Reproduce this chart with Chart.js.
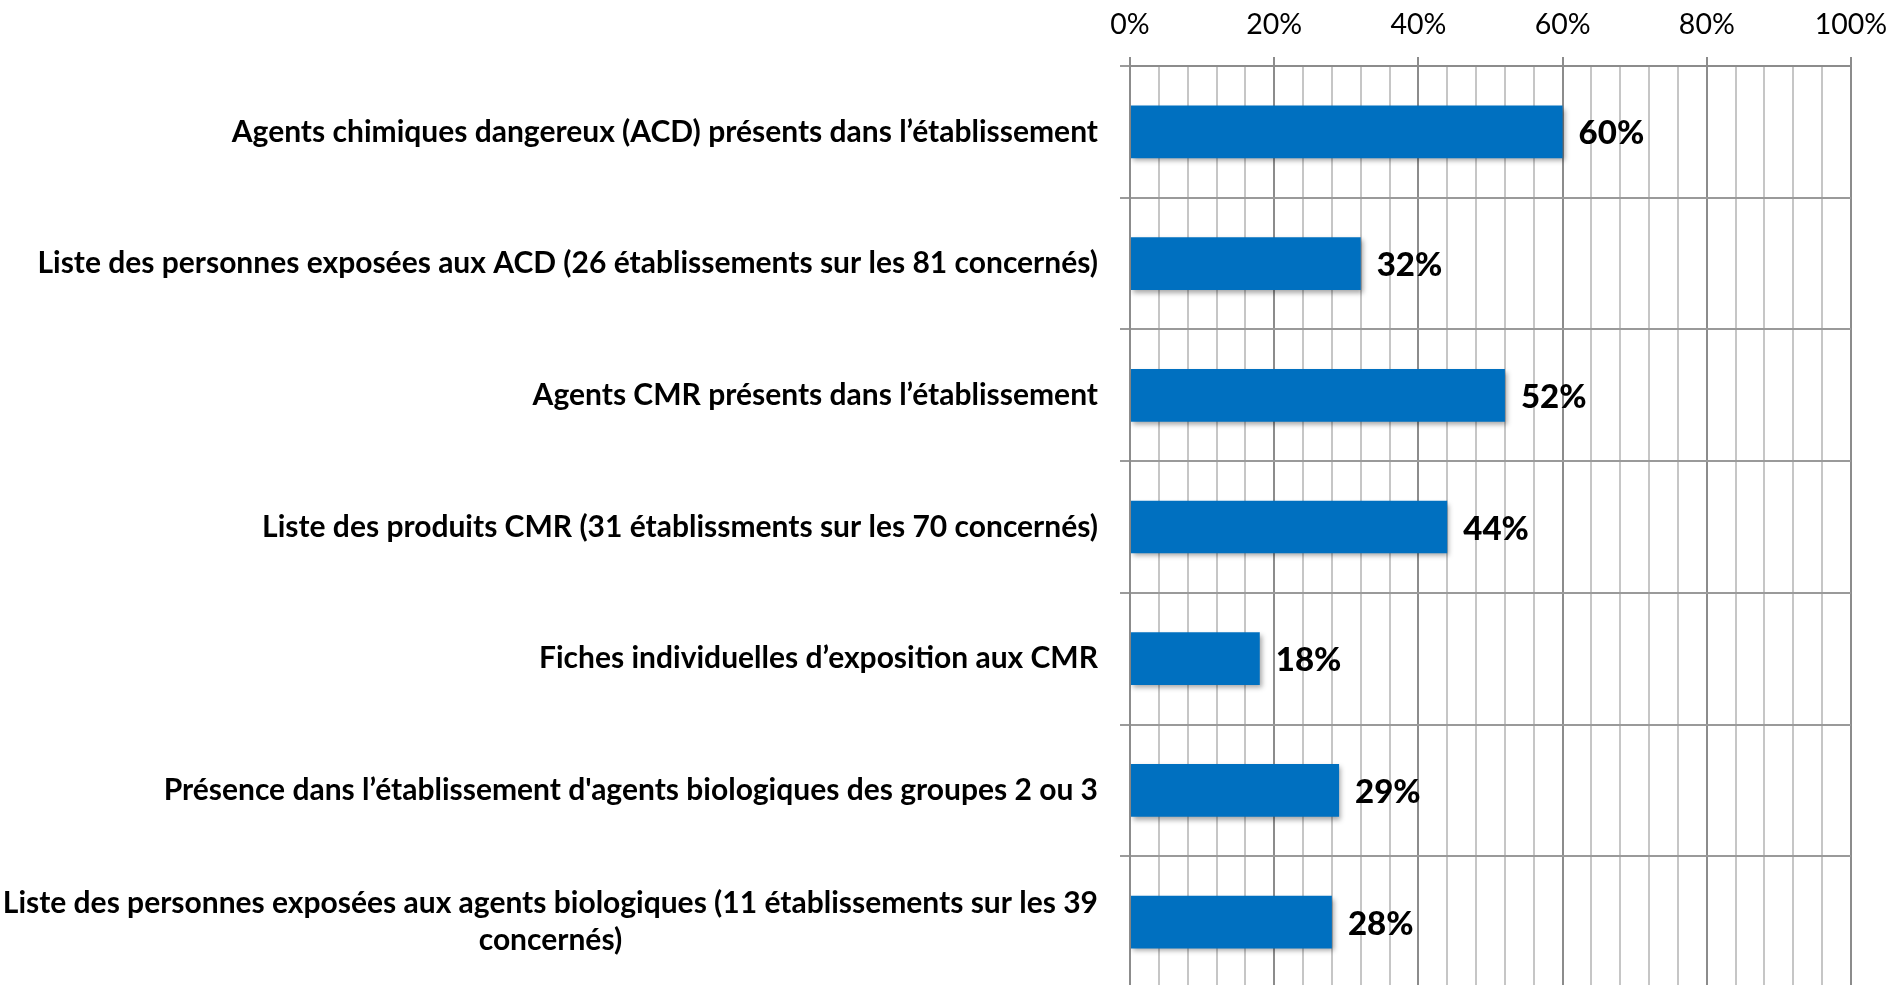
<!DOCTYPE html>
<html lang="fr">
<head>
<meta charset="utf-8">
<title>Risques chimiques et biologiques</title>
<script src="https://cdn.jsdelivr.net/npm/chart.js@4.4.1/dist/chart.umd.min.js"></script>
<style>
  html, body { margin: 0; padding: 0; background: #fff; overflow: hidden; }
  #wrap { width: 1890px; height: 988px; }
</style>
</head>
<body>
<div id="wrap"><canvas id="barChart" width="1890" height="988"></canvas></div>
<script>
const categories = [
  "Agents chimiques dangereux (ACD) présents dans l’établissement",
  "Liste des personnes exposées aux ACD (26 établissements sur les 81 concernés)",
  "Agents CMR présents dans l’établissement",
  "Liste des produits CMR (31 établissments sur les 70 concernés)",
  "Fiches individuelles d’exposition aux CMR",
  "Présence dans l’établissement d'agents biologiques des groupes 2 ou 3",
  ["Liste des personnes exposées aux agents biologiques (11 établissements sur les 39", "concernés)"],
];
const percentValues = [60, 32, 52, 44, 18, 29, 28];
const axisTicks = [0, 20, 40, 60, 80, 100];

window.onload = function () {
  const canvas = document.getElementById("barChart");
  const ctx = canvas.getContext("2d");

  // soft drop shadow under the bars
  const barShadow = {
    id: "barShadow",
    beforeDatasetsDraw(chart) {
      const c = chart.ctx;
      c.save();
      c.shadowColor = "rgba(0, 0, 0, 0.35)";
      c.shadowBlur = 5;
      c.shadowOffsetX = 2;
      c.shadowOffsetY = 3;
    },
    afterDatasetsDraw(chart) {
      chart.ctx.restore();
    },
  };

  // "60%" etc. next to the end of each bar
  const valueLabels = {
    id: "valueLabels",
    afterDatasetsDraw(chart) {
      const c = chart.ctx;
      const meta = chart.getDatasetMeta(0);
      c.save();
      c.font = "900 33px Lato";
      c.fillStyle = "#000";
      c.textAlign = "left";
      c.textBaseline = "middle";
      meta.data.forEach((bar, i) => {
        c.fillText(percentValues[i] + "%", bar.x + 16, bar.y + 2);
      });
      c.restore();
    },
  };

  // category names, right aligned; wrapped lines are centred on the first one
  const categoryLabels = {
    id: "categoryLabels",
    afterDraw(chart) {
      const c = chart.ctx;
      const yScale = chart.scales.y;
      const right = chart.chartArea.left - 32;
      const lineH = 37;
      c.save();
      c.font = "bold 30px Lato";
      c.fillStyle = "#000";
      c.textAlign = "center";
      c.textBaseline = "middle";
      categories.forEach((label, i) => {
        const lines = Array.isArray(label) ? label : [label];
        const yMid = yScale.getPixelForValue(i);
        const blockW = Math.max(...lines.map((l) => c.measureText(l).width));
        lines.forEach((line, j) => {
          const y = yMid + (j - (lines.length - 1) / 2) * lineH;
          c.fillText(line, right - blockW / 2, y);
        });
      });
      c.restore();
    },
  };

  new Chart(ctx, {
    type: "bar",
    data: {
      labels: categories,
      datasets: [
        {
          data: percentValues,
          backgroundColor: "#0070C0",
          borderWidth: 0,
          barPercentage: 0.4,
          categoryPercentage: 1,
        },
      ],
    },
    options: {
      indexAxis: "y",
      responsive: false,
      animation: false,
      layout: { padding: { top: 0, right: 39, bottom: 0, left: 0 } },
      plugins: {
        legend: { display: false },
        tooltip: { enabled: false },
      },
      scales: {
        x: {
          position: "top",
          min: 0,
          max: 100,
          afterFit: (scale) => {
            // fixed axis band; the page padding leaves room for "100%"
            scale.height = 66;
            scale.paddingLeft = 0;
            scale.paddingRight = 0;
          },
          border: { color: "#8c8c8c", width: 2 },
          grid: {
            lineWidth: 2,
            tickLength: 9,
            color: (c) => (axisTicks.includes(c.tick.value) ? "#8c8c8c" : "#c6c6c6"),
            tickColor: (c) => (axisTicks.includes(c.tick.value) ? "#8c8c8c" : "rgba(0,0,0,0)"),
          },
          ticks: {
            stepSize: 4,
            autoSkip: false,
            maxRotation: 0,
            padding: 15,
            color: "#000",
            font: { family: "Lato", size: 28.5 },
            callback: (value) => (axisTicks.includes(value) ? value + "%" : ""),
          },
        },
        y: {
          afterFit: (scale) => {
            scale.width = 1130;
          },
          border: { color: "#8c8c8c", width: 2 },
          grid: { color: "#9a9a9a", lineWidth: 2, tickLength: 10 },
          ticks: { display: false },
        },
      },
    },
    plugins: [barShadow, valueLabels, categoryLabels],
  });
};
</script>
</body>
</html>
